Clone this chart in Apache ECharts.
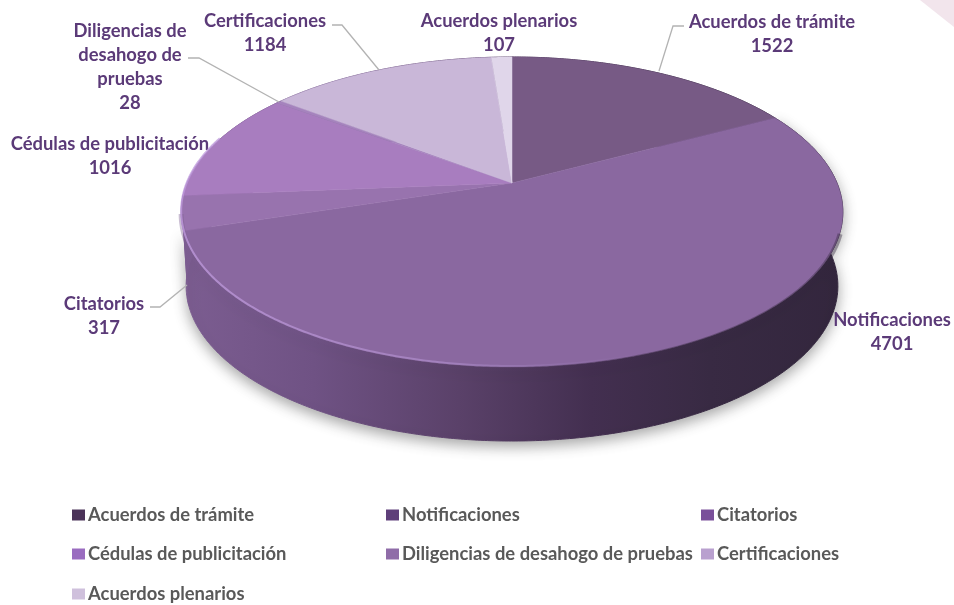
<!DOCTYPE html>
<html>
<head>
<meta charset="utf-8">
<style>
  html, body { margin: 0; padding: 0; background: #fff; }
  #chart { width: 954px; height: 605px; }
</style>
<script src="https://cdn.jsdelivr.net/npm/echarts@6/dist/echarts.min.js"></script>
</head>
<body>
<div id="chart"></div>
<script>
const categories = ['Acuerdos de trámite', 'Notificaciones', 'Citatorios', 'Cédulas de publicitación',
  'Diligencias de desahogo de pruebas', 'Certificaciones', 'Acuerdos plenarios'];
const values = [1522, 4701, 317, 1016, 28, 1184, 107];

const topColors = ['#775a85', '#8a68a0', '#9873ae', '#a87dbf', '#a583bd', '#c9b7d8', '#e0d6ea'];
const legendColors = ['#4b3359', '#5f3f7a', '#7a509a', '#9a6cc0', '#8f6ca8', '#b9a0cf', '#cfc0dc'];

// label layout, one per category: center x, top y, text lines before the value
const labelBoxes = [
  { x: 772, y: 20, lines: ['Acuerdos de trámite'] },
  { x: 892, y: 318, lines: ['Notificaciones'] },
  { x: 104, y: 302, lines: ['Citatorios'] },
  { x: 110, y: 142, lines: ['Cédulas de publicitación'] },
  { x: 130, y: 29, lines: ['Diligencias de', 'desahogo de', 'pruebas'] },
  { x: 265, y: 19, lines: ['Certificaciones'] },
  { x: 499, y: 19, lines: ['Acuerdos plenarios'] }
];
const leaders = [
  [[684, 26], [673, 26], [659, 71]],
  null,
  [[150, 307], [160, 307], [187, 285]],
  null,
  [[188, 58], [199, 58], [279, 102]],
  [[332, 25], [342, 25], [379, 70]],
  null
];
const legendSpots = [[72, 506], [386, 506], [701, 506], [72, 545], [386, 545], [701, 545], [72, 585]];

// the disc is a circle seen in perspective, so the apex is not the ellipse center
const disc = { x: 512, y: 183, a: 325, c: 149.6, k: 0.187, depth: 74, bottomScale: 0.985 };
const total = values.reduce((s, v) => s + v, 0);
const starts = [];
values.reduce((s, v, i) => { starts[i] = s; return s + v; }, 0);

function project(turn, dy, scale) {
  const t = turn * Math.PI * 2;
  const u = Math.sin(t), v = -Math.cos(t);
  const w = 1 - disc.k * v;
  return [disc.x + (scale || 1) * disc.a * u / w, disc.y + disc.c * v / w + (dy || 0)];
}
function arc(from, to, dy, scale) {
  const n = Math.max(2, Math.ceil((to - from) * 720));
  const pts = [];
  for (let i = 0; i <= n; i++) pts.push(project(from + (to - from) * i / n, dy, scale));
  return pts;
}

const wallFill = new echarts.graphic.LinearGradient(181, 0, 843, 0, [
  { offset: 0, color: '#7c5d91' },
  { offset: 0.2, color: '#6f5284' },
  { offset: 0.42, color: '#5a4169' },
  { offset: 0.62, color: '#432f50' },
  { offset: 0.8, color: '#382a43' },
  { offset: 1, color: '#33263d' }
], true);
const rimLight = new echarts.graphic.LinearGradient(181, 0, 843, 0, [
  { offset: 0, color: 'rgba(192,155,222,0.9)' },
  { offset: 0.4, color: 'rgba(172,138,200,0.85)' },
  { offset: 0.58, color: 'rgba(160,130,190,0.3)' },
  { offset: 0.7, color: 'rgba(160,130,190,0)' },
  { offset: 1, color: 'rgba(160,130,190,0)' }
], true);

const renderWall = (params, api) => {
  const from = starts[params.dataIndex] / total;
  const to = from + api.value(0) / total;
  const points = arc(from, to, 0).concat(arc(from, to, disc.depth, disc.bottomScale).reverse());
  const style = { fill: wallFill, stroke: wallFill, lineWidth: 1 };
  if (params.dataIndex === 1) {
    style.shadowBlur = 14;
    style.shadowColor = 'rgba(0,0,0,0.35)';
    style.shadowOffsetY = 5;
  }
  return { type: 'polygon', shape: { points: points }, style: style };
};

// soft bevel between the top face and the wall, runs along the front edge
const renderRim = () => ({
  type: 'group',
  children: [{
    type: 'polyline', shape: { points: arc(0.3, 0.72, 2) },
    style: { fill: null, stroke: wallFill, lineWidth: 5, opacity: 0.4 }
  }, {
    type: 'polyline', shape: { points: arc(0.36, 0.8, -1) },
    style: { fill: null, stroke: rimLight, lineWidth: 2, opacity: 0.85 }
  }]
});

const renderSlice = (i) => (params, api) => {
  const from = starts[i] / total;
  const to = from + api.value(0) / total;
  const box = labelBoxes[i];
  const children = [{
    type: 'polygon',
    shape: { points: [[disc.x, disc.y]].concat(arc(from, to, 0)) },
    style: { fill: topColors[i], stroke: topColors[i], lineWidth: 0.5 }
  }, {
    type: 'text',
    x: box.x, y: box.y - 10,
    style: {
      text: box.lines.concat(api.value(0)).join('\n'),
      align: 'center', verticalAlign: 'top', lineHeight: 24,
      font: 'bold 18.4px Lato', fill: '#5b3a78'
    }
  }];
  if (leaders[i]) {
    children.push({
      type: 'polyline', shape: { points: leaders[i] },
      style: { fill: null, stroke: '#b3b3b3', lineWidth: 1.3 }
    });
  }
  return { type: 'group', children: children };
};

const option = {
  animation: false,
  backgroundColor: '#fff',
  graphic: [{
    type: 'polygon', silent: true,
    shape: { points: [[920, 0], [954, 0], [954, 27]] },
    style: { fill: '#f2e5ec' }
  }],
  legend: categories.map((name, i) => ({
    left: legendSpots[i][0], top: legendSpots[i][1],
    selectedMode: false, padding: 0,
    itemWidth: 13, itemHeight: 11, icon: 'rect',
    textStyle: { fontFamily: 'Lato', fontWeight: 'bold', fontSize: 18.4, color: '#595959', padding: [0, 0, 0, -2] },
    data: [{ name: name, itemStyle: { color: legendColors[i] } }]
  })),
  series: [{
    type: 'custom', name: 'pared', coordinateSystem: 'none', silent: true, z: 1,
    data: values.map(v => [v]),
    renderItem: renderWall
  }, {
    type: 'custom', name: 'bisel', coordinateSystem: 'none', silent: true, z: 3,
    data: [[total]],
    renderItem: renderRim
  }].concat(categories.map((name, i) => ({
    type: 'custom', name: name, coordinateSystem: 'none', z: 2,
    itemStyle: { color: legendColors[i] },
    data: [[values[i]]],
    renderItem: renderSlice(i)
  })))
};

const myChart = echarts.init(document.getElementById('chart'));
myChart.setOption(option);
</script>
</body>
</html>
